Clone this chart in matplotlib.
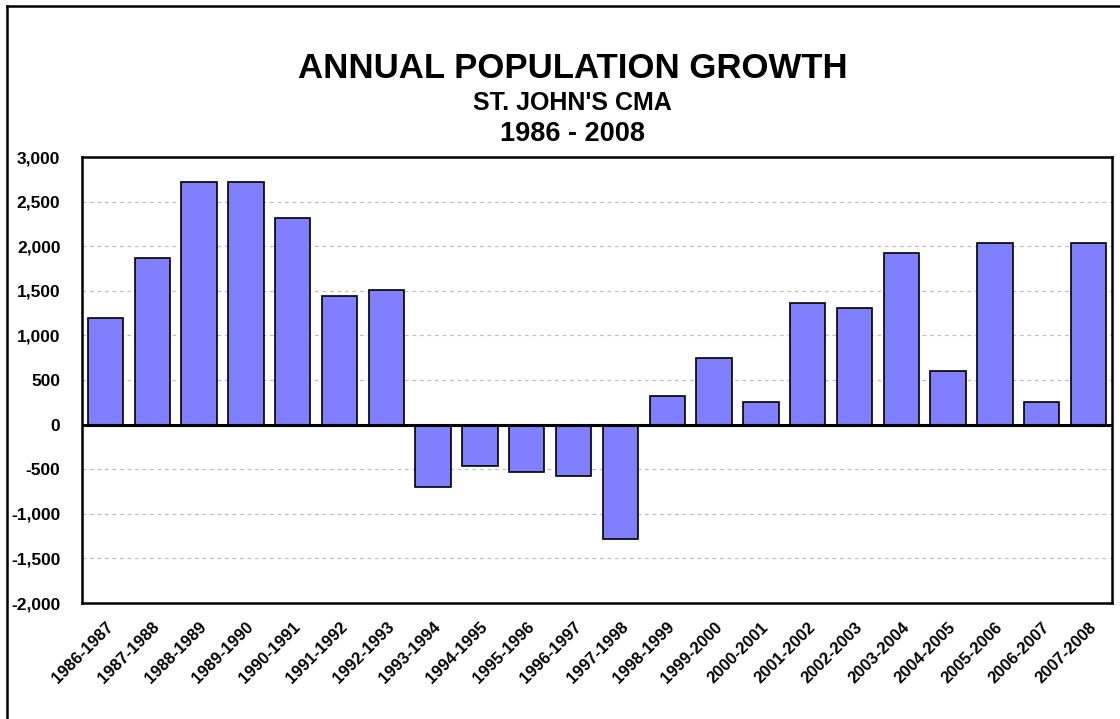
import matplotlib
matplotlib.use("Agg")
import matplotlib.pyplot as plt
from matplotlib.lines import Line2D
from matplotlib.ticker import FuncFormatter, MultipleLocator

periods = ["1986-1987", "1987-1988", "1988-1989", "1989-1990", "1990-1991",
           "1991-1992", "1992-1993", "1993-1994", "1994-1995", "1995-1996",
           "1996-1997", "1997-1998", "1998-1999", "1999-2000", "2000-2001",
           "2001-2002", "2002-2003", "2003-2004", "2004-2005", "2005-2006",
           "2006-2007", "2007-2008"]
growth = [1196, 1869, 2717, 2717, 2314,
          1440, 1510, -702, -466, -534,
          -578, -1285, 318, 744, 251,
          1361, 1305, 1921, 599, 2034,
          251, 2034]

title = "ANNUAL POPULATION GROWTH"
subtitle = "ST. JOHN'S CMA"
years = "1986 - 2008"

plt.rcParams["font.family"] = ["Liberation Sans", "DejaVu Sans"]

fig = plt.figure(figsize=(11.2, 7.19), dpi=100)
ax = fig.add_axes([82 / 1120, 1 - 603 / 719, (1112 - 82) / 1120, (603 - 157) / 719])

x = range(len(periods))
ax.bar(x, growth, width=0.756, color="#8080FF", edgecolor="black",
       linewidth=1.2, zorder=3)

ax.set_xlim(-0.5, len(periods) - 0.5)
ax.set_ylim(-2000, 3000)
ax.yaxis.set_major_locator(MultipleLocator(500))
ax.yaxis.set_major_formatter(FuncFormatter(lambda v, _: f"{int(v):,}"))
ax.grid(axis="y", color="#c0c0c0", linestyle=(0, (3, 3)), linewidth=0.9, zorder=0)
ax.axhline(0, color="black", linewidth=2.2, zorder=4)

ax.set_xticks(list(x))
ax.set_xticklabels(periods, rotation=45, ha="right", rotation_mode="anchor",
                   fontsize=12, fontweight="bold")
for lab in ax.get_yticklabels():
    lab.set_fontsize(12.5)
    lab.set_fontweight("bold")
ax.tick_params(axis="both", length=0)
ax.tick_params(axis="y", pad=15.5)
ax.tick_params(axis="x", pad=12)

for side in ["left", "right", "top", "bottom"]:
    ax.spines[side].set_linewidth(1.8)
    ax.spines[side].set_color("black")

fig.text(0.511, 1 - 78 / 719, title, ha="center", va="baseline",
         fontsize=25, fontweight="bold")
fig.text(0.511, 1 - 110 / 719, subtitle, ha="center", va="baseline",
         fontsize=18, fontweight="bold")
fig.text(0.511, 1 - 141 / 719, years, ha="center", va="baseline",
         fontsize=19.5, fontweight="bold")

# chart-area frame along the left and top edges
fig.add_artist(Line2D([7 / 1120, 7 / 1120], [0, 1 - 6 / 719],
                      transform=fig.transFigure, color="black", linewidth=1.8))
fig.add_artist(Line2D([7 / 1120, 1], [1 - 6 / 719, 1 - 6 / 719],
                      transform=fig.transFigure, color="black", linewidth=1.8))

fig.savefig("out.png", dpi=100, facecolor="white")
